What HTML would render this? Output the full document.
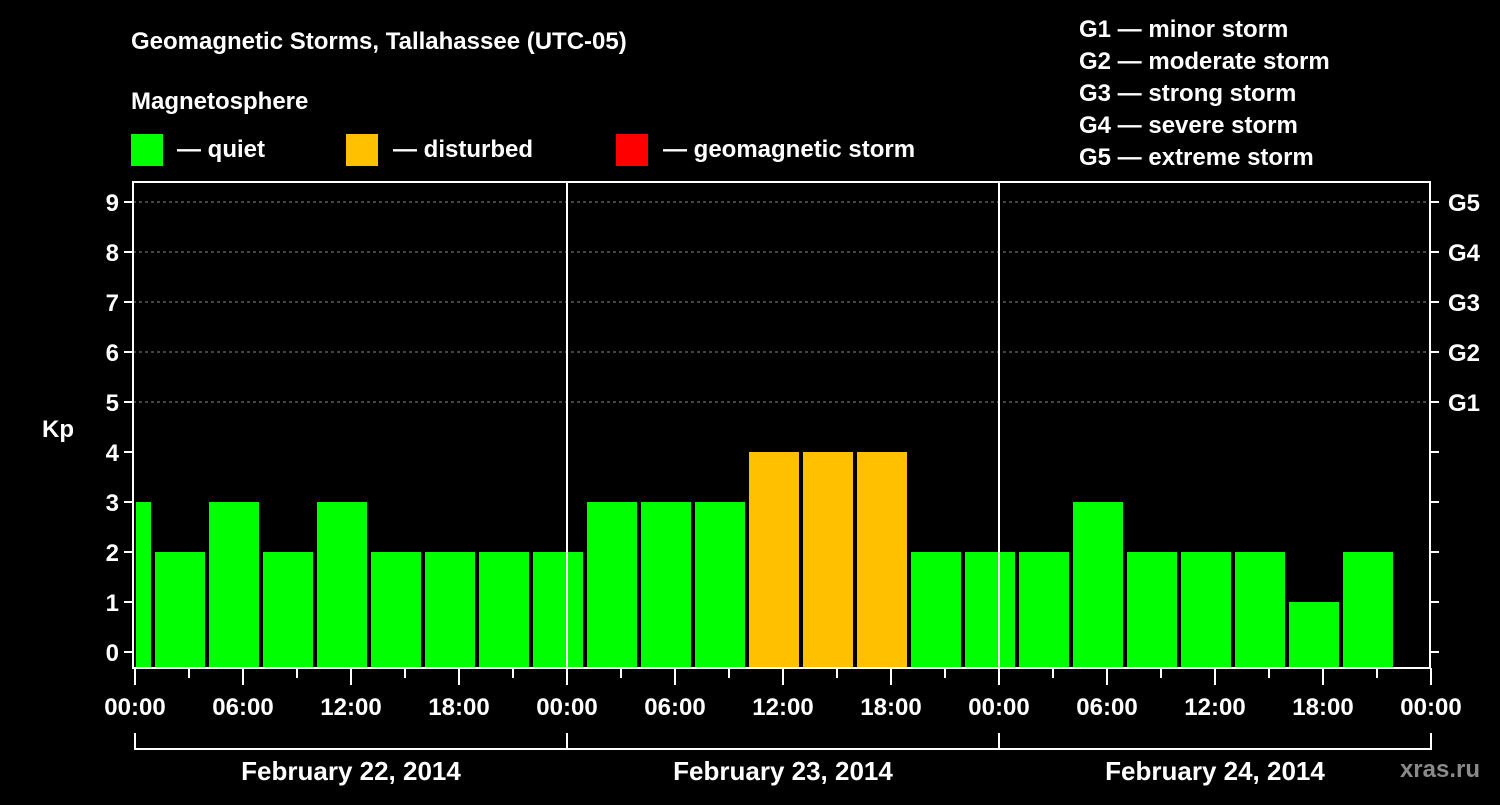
<!DOCTYPE html>
<html><head><meta charset="utf-8"><style>
body{margin:0;background:#000;width:1500px;height:800px;overflow:hidden;font-family:"Liberation Sans",sans-serif;}
svg text{font-family:"Liberation Sans",sans-serif;font-weight:bold;fill:#fff;}
</style></head><body>
<svg id="c" width="1500" height="800">
<text x="131" y="49" font-size="24">Geomagnetic Storms, Tallahassee (UTC-05)</text>
<text x="131" y="109" font-size="24">Magnetosphere</text>
<rect x="131" y="134" width="32" height="32" fill="#00ff00"/>
<text x="177" y="157" font-size="24">— quiet</text>
<rect x="346" y="134" width="32" height="32" fill="#ffc000"/>
<text x="393" y="157" font-size="24">— disturbed</text>
<rect x="616" y="134" width="32" height="32" fill="#ff0000"/>
<text x="663" y="157" font-size="24">— geomagnetic storm</text>
<g font-size="24">
<text x="1079" y="37">G1 — minor storm</text>
<text x="1079" y="69">G2 — moderate storm</text>
<text x="1079" y="101">G3 — strong storm</text>
<text x="1079" y="133">G4 — severe storm</text>
<text x="1079" y="165">G5 — extreme storm</text>
</g>
<text x="42" y="437" font-size="24">Kp</text>
<text x="1480" y="777" font-size="24" fill="#888" style="fill:#8a8a8a" text-anchor="end">xras.ru</text>
<g id="g"></g>
</svg>
<script>
const kpValues=[3,2,3,2,3,2,2,2,2,3,3,3,4,4,4,2,2,2,3,2,2,2,1,2];
const binStartHours=[-2,1,4,7,10,13,16,19,22,25,28,31,34,37,40,43,46,49,52,55,58,61,64,67];
const dayLabels=["February 22, 2014","February 23, 2014","February 24, 2014"];
const timeLabels=["00:00","06:00","12:00","18:00"];
const gLabels=["G1","G2","G3","G4","G5"];
const NS="http://www.w3.org/2000/svg";
const g=document.getElementById('g');
const X0=135,PX_H=18,L=133,R=1430,T=182,B=668;
const xs=h=>X0+h*PX_H;
const ys=v=>652-v*50;
function mk(t,a,txt){const e=document.createElementNS(NS,t);for(const k in a)e.setAttribute(k,a[k]);if(txt!==undefined)e.textContent=txt;g.appendChild(e);return e;}
// grid
for(let v=5;v<=9;v++){const e=mk('line',{x1:L,x2:R,y1:ys(v),y2:ys(v),stroke:'#888','stroke-dasharray':'3,3'});

}
// bars
kpValues.forEach((v,i)=>{
 let a=xs(binStartHours[i])+2,b=xs(binStartHours[i]+3)-2;
 if(a<X0+1)a=X0+1;
 const e=mk('rect',{x:a,y:ys(v),width:b-a,height:B-ys(v),fill:v>=5?'#ff0000':(v>=4?'#ffc000':'#00ff00')});
 
 
});
// day separators
for(let d=1;d<3;d++){const e=mk('line',{x1:xs(24*d),x2:xs(24*d),y1:T,y2:B,stroke:'#fff','stroke-width':2});

}
// frame
const fr=mk('rect',{x:L,y:T,width:R-L,height:B-T,fill:'none',stroke:'#fff','stroke-width':2});


// y ticks
for(let v=0;v<=9;v++){
 mk('line',{x1:L-9,x2:L,y1:ys(v),y2:ys(v),stroke:'#fff','stroke-width':2});
 mk('line',{x1:R,x2:R+9,y1:ys(v),y2:ys(v),stroke:'#fff','stroke-width':2});
 const t=mk('text',{x:L-14,y:ys(v)+9,'font-size':24,'text-anchor':'end'},String(v));
 
 
 if(v>=5){const r=mk('text',{x:R+18,y:ys(v)+9,'font-size':24},gLabels[v-5]);
 
 }
}
// x ticks
for(let h=0;h<=72;h+=3){
 const maj=h%6===0;
 mk('line',{x1:xs(h),x2:xs(h),y1:B,y2:B+(maj?17:10),stroke:'#fff','stroke-width':2});
 if(maj){const t=mk('text',{x:xs(h),y:715,'font-size':24,'text-anchor':'middle'},timeLabels[(h%24)/6]);
 
 }
}
// day brackets
for(let d=0;d<3;d++){
 mk('polyline',{points:`${xs(24*d)},733 ${xs(24*d)},749 ${xs(24*d+24)},749 ${xs(24*d+24)},733`,fill:'none',stroke:'#fff','stroke-width':2});
 const t=mk('text',{x:xs(24*d+12),y:780,'font-size':26,'text-anchor':'middle'},dayLabels[d]);
 
 
}
</script>
</body></html>
